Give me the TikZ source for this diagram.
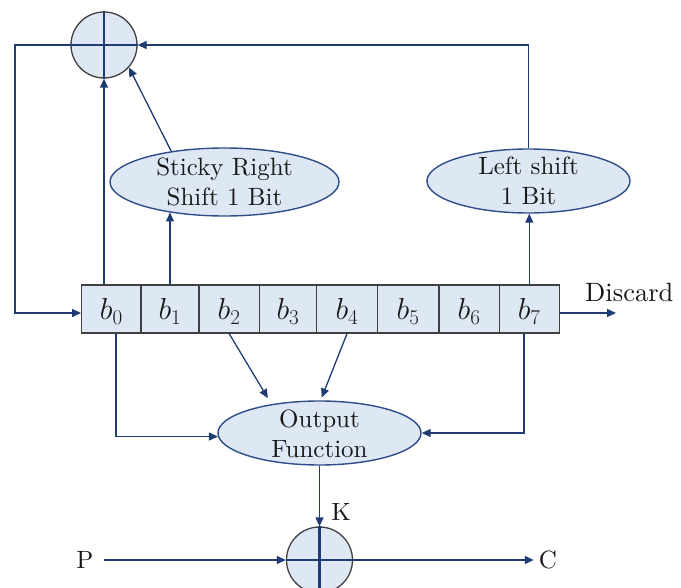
\documentclass[tikz,border=0pt]{standalone}
\usepackage{fontspec}
\setmainfont{lmroman10-regular.otf}
\usetikzlibrary{arrows.meta,shapes.geometric,calc}
\definecolor{navy}{HTML}{1F3B73}
\definecolor{fillb}{HTML}{DDE8F4}
\definecolor{ebord}{HTML}{2F4D8A}
\definecolor{cbord}{HTML}{404040}
\newcommand{\regb}[1]{\scalebox{1.22}{$b_{#1}$}}
\begin{document}
\begin{tikzpicture}[x=1pt,y=-1pt,
  font=\fontsize{25}{30}\selectfont,
  arr/.style={draw=navy,line width=1.3pt,-{Triangle[length=9pt,width=8pt]}},
  ell/.style={ellipse,draw=ebord,fill=fillb,line width=1.4pt,inner sep=0pt},
  txt/.style={inner sep=0pt,align=center,text=black!90},
  xorc/.style={circle,draw=cbord,fill=fillb,line width=1.3pt,minimum size=66pt,inner sep=0pt},
  cross/.style={draw=navy,line width=2.6pt},
  cell/.style={rectangle,draw=cbord,fill=fillb,line width=1.3pt,minimum height=48pt,inner sep=0pt,text height=22pt,text depth=0pt,text=black!90},
]
\useasboundingbox (0,0) rectangle (681,588);
\clip (0,0) rectangle (681,588);

% XOR circles
\node[xorc] (x1) at (104,45) {};
\draw[cross] (x1.north) -- (x1.south) (x1.west) -- (x1.east);
\node[xorc] (x2) at (319.5,560) {};
\draw[cross] (x2.north) -- (x2.south) (x2.west) -- (x2.east);

% ellipses
\node[ell,minimum width=229pt,minimum height=68pt] (sticky) at (224.5,182) {};
\node[txt] (stickyT) at (224.5,182) {Sticky Right\\Shift 1 Bit};
\node[ell,minimum width=203pt,minimum height=64pt] (lshift) at (528.5,181) {};
\node[txt] (lshiftT) at (528.5,181) {Left shift\\1 Bit};
\node[ell,minimum width=203pt,minimum height=64pt] (ofun) at (319.5,433) {};
\node[txt] (ofunT) at (319.5,433.5) {Output\\Function};

% register
\node[cell,minimum width=59.3pt] (b0) at (111.35,309) {\regb{0}};
\node[cell,minimum width=58pt]   (b1) at (170,309) {\regb{1}};
\node[cell,minimum width=60.3pt] (b2) at (229.15,309) {\regb{2}};
\node[cell,minimum width=57.4pt] (b3) at (288,309) {\regb{3}};
\node[cell,minimum width=60.6pt] (b4) at (347,309) {\regb{4}};
\node[cell,minimum width=61.7pt] (b5) at (408.15,309) {\regb{5}};
\node[cell,minimum width=60.3pt] (b6) at (469.15,309) {\regb{6}};
\node[cell,minimum width=60pt]   (b7) at (529.3,309) {\regb{7}};

% labels
\node[txt,anchor=base west,font=\fontsize{26.5}{30}\selectfont] (disc) at (585,302) {Discard};
\node[txt] (K) at (341,512) {K};
\node[txt] (P) at (85,560) {P};
\node[txt] (C) at (548,560) {C};

% free ends
\coordinate (fbl) at (15,45);
\coordinate (discend) at (616,313);

% connectors
\draw[arr] (x1.west) -- (fbl) |- ([yshift=-4pt]b0.west);
\draw[arr] (b0.north -| x1.south) -- (x1.south);
\draw[arr] (b1.north) -- (b1.north |- sticky.209);
\draw[arr] (sticky.150) -- (x1.-42);
\draw[arr] (b7.north) -- (b7.north |- lshift.south);
\draw[arr] (lshift.north) |- (x1.east);
\draw[arr] ([yshift=-4pt]b7.east) -- (discend);
\draw[arr] ([xshift=4.65pt]b0.south) |- (ofun.182);
\draw[arr] ([xshift=-5.3pt]b7.south) |- (ofun.east);
\draw[arr,shorten >=7pt] (b2.south) -- (ofun.149);
\draw[arr,shorten >=3pt] (b4.south) -- (ofun.88);
\draw[arr] (ofun.south) -- (x2.north);
\draw[arr,shorten <=10pt] (P.east) -- (x2.west);
\draw[arr,shorten >=5pt] (x2.east) -- (C.west);
\end{tikzpicture}
\end{document}
